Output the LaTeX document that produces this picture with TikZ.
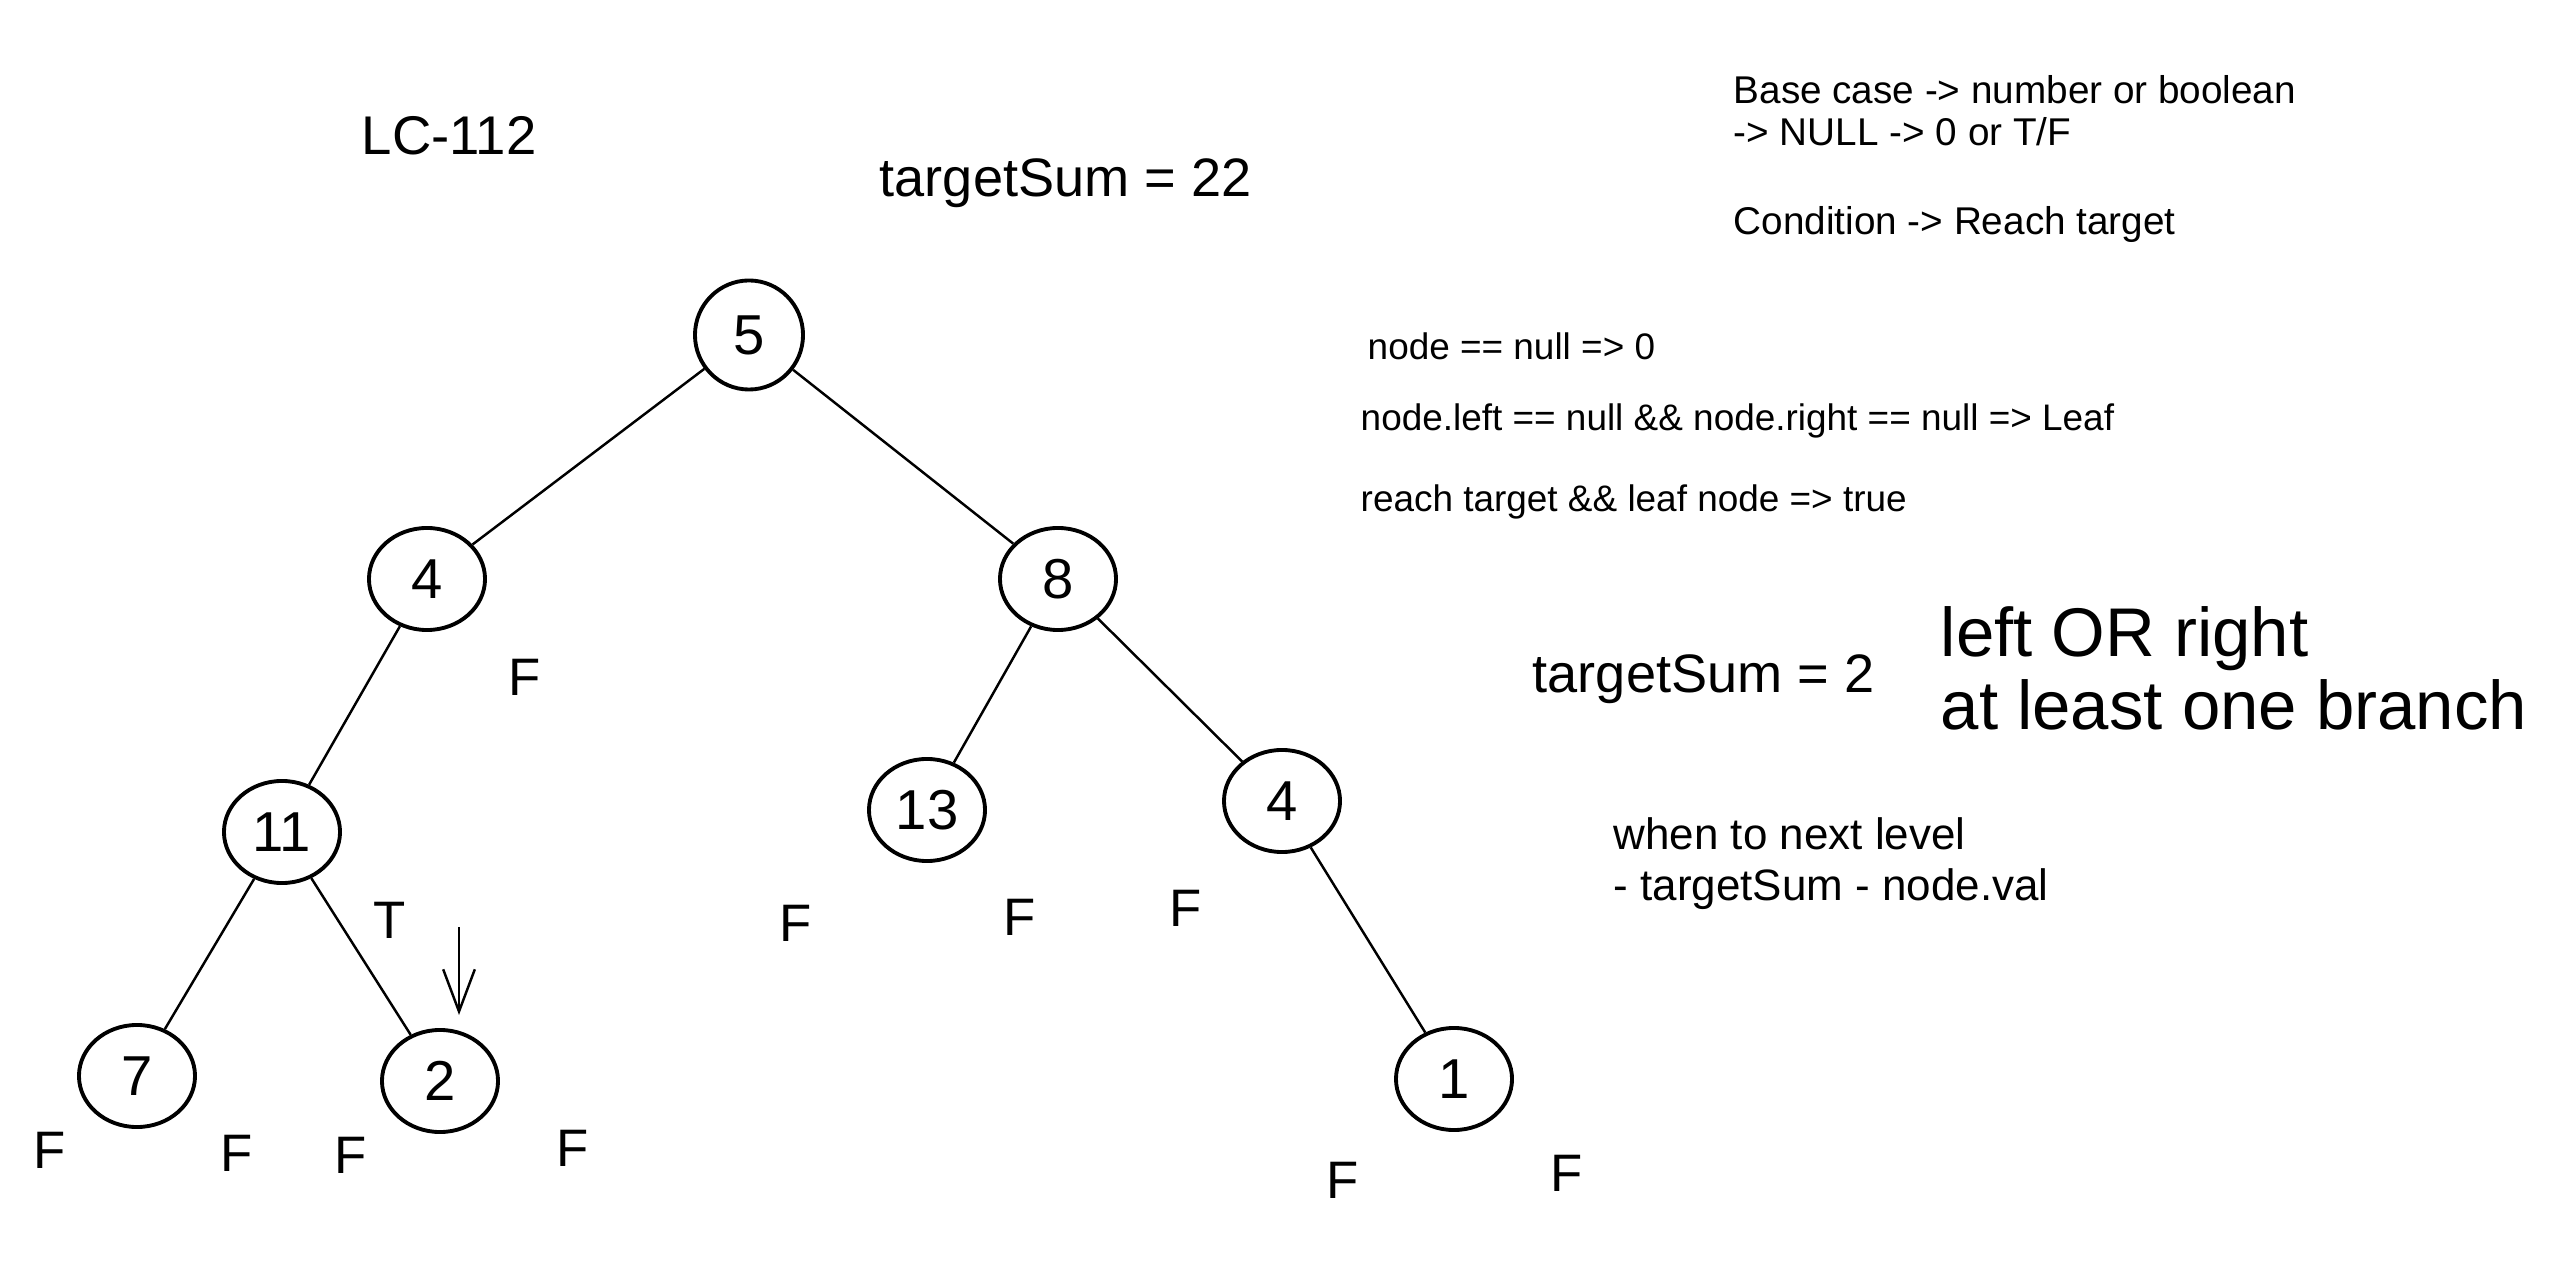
\documentclass[tikz,border=0pt]{standalone}
\usepackage{fontspec}
\setmainfont{Liberation Sans}
\usetikzlibrary{shapes.geometric,arrows.meta}
\tikzset{
  tnode/.style={ellipse, draw, line width=1.1pt, minimum width=1.16cm, minimum height=1.02cm, inner sep=0pt, font=\fontsize{16}{16}\selectfont},
  conn/.style={line width=0.7pt},
  lbl/.style={font=\fontsize{15}{15}\selectfont, inner sep=0pt},
  txt/.style={anchor=base west, inner sep=0pt},
  note/.style={txt, font=\fontsize{11}{11}\selectfont},
  code/.style={txt, font=\fontsize{10.5}{10.5}\selectfont},
  mid/.style={txt, font=\fontsize{15.4}{15.4}\selectfont},
  big/.style={txt, font=\fontsize{19.6}{19.6}\selectfont},
  small/.style={txt, font=\fontsize{12.5}{12.5}\selectfont},
}
\begin{document}
\begin{tikzpicture}[x=0.01cm, y=-0.01cm]
\useasboundingbox (0,0) rectangle (2552,1286);
\fill[white] (0,0) rectangle (2552,1286);

% tree nodes
\node[tnode, minimum width=1.08cm, minimum height=1.09cm] (n5) at (749,335) {5};
\node[tnode] (n4l) at (427,579) {4};
\node[tnode] (n8) at (1058,579) {8};
\node[tnode] (n11) at (282,832) {11};
\node[tnode] (n13) at (927,810) {13};
\node[tnode] (n4r) at (1282,801) {4};
\node[tnode] (n7) at (137,1076) {7};
\node[tnode] (n2) at (440,1081) {2};
\node[tnode] (n1) at (1454,1079) {1};

% edges
\draw[conn] (n5) -- (n4l);
\draw[conn] (n5) -- (n8);
\draw[conn] (n4l) -- (n11);
\draw[conn] (n8) -- (n13);
\draw[conn] (n8) -- (n4r);
\draw[conn] (n11) -- (n7);
\draw[conn] (n11) -- (n2);
\draw[conn] (n4r) -- (n1);

% arrow above node 2
\coordinate (arrS) at (459,927);
\coordinate (arrE) at (459,1015);
\draw[conn, -{Straight Barb[length=12pt,width=9pt]}] (arrS) -- (arrE);

% T / F labels
\node[lbl] (f4l) at (525,677) {F};
\node[lbl] (t11) at (390,920) {T};
\node[lbl] (f7a) at (50,1150) {F};
\node[lbl] (f7b) at (237,1153) {F};
\node[lbl] (f2a) at (351,1155) {F};
\node[lbl] (f2b) at (573,1148) {F};
\node[lbl] (f13a) at (796,923) {F};
\node[lbl] (f13b) at (1020,917) {F};
\node[lbl] (f4r) at (1186,908) {F};
\node[lbl] (f1a) at (1343,1180) {F};
\node[lbl] (f1b) at (1567,1173) {F};

% texts
\node[txt, font=\fontsize{15.5}{15.5}\selectfont] (title) at (361,155) {LC-112};
\node[mid] (ts22) at (879,197) {targetSum = 22};
\node[note] (base1) at (1733,104) {Base case -> number or boolean};
\node[note] (base2) at (1733,146) {-> NULL -> 0 or T/F};
\node[note] (cond) at (1733,235) {Condition -> Reach target};
\node[code] (c1) at (1367,360) {node == null => 0};
\node[code] (c2) at (1360,431) {node.left == null \&\& node.right == null => Leaf};
\node[code] (c3) at (1360,512) {reach target \&\& leaf node => true};
\node[mid] (ts2) at (1532,693) {targetSum = 2};
\node[big] (lor) at (1940,657) {left OR right};
\node[big] (alob) at (1940,730) {at least one branch};
\node[small] (w1) at (1613,850) {when to next level};
\node[small] (w2) at (1613,900) {- targetSum - node.val};
\end{tikzpicture}
\end{document}
